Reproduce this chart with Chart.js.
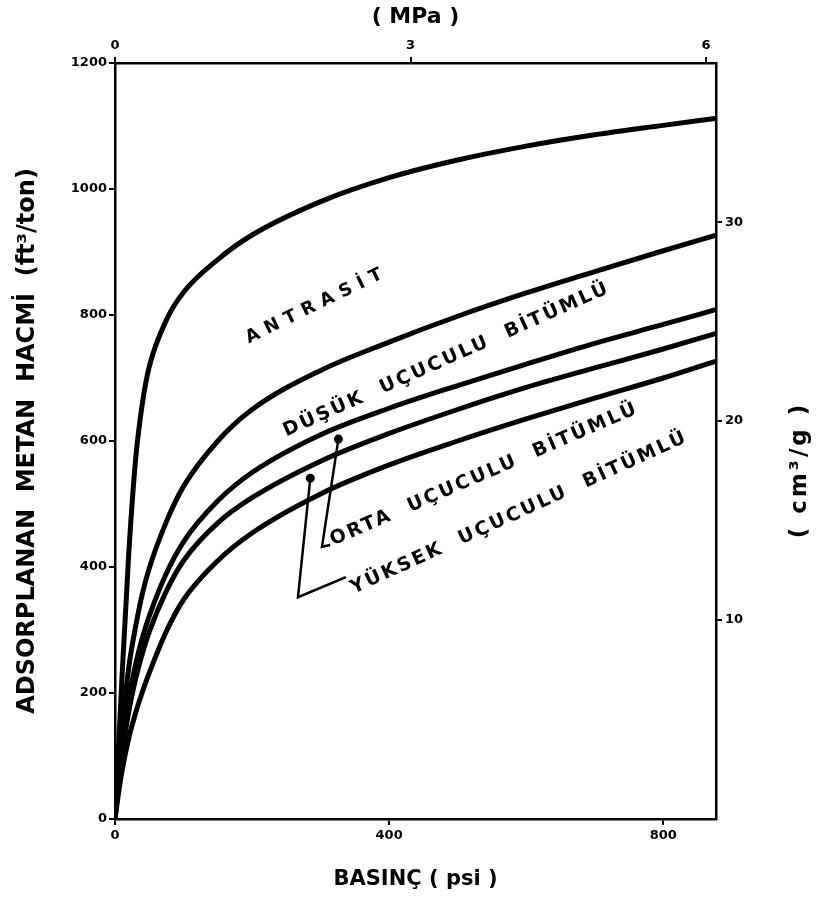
<!DOCTYPE html>
<html><head><meta charset="utf-8">
<script src="https://cdn.jsdelivr.net/npm/chart.js@4.4.0/dist/chart.umd.min.js"></script>
<style>html,body{margin:0;padding:0;background:#fff;}#wrap{width:816px;height:907px;}</style>
</head><body>
<div id="wrap"><canvas id="c" width="816" height="907"></canvas></div>
<script>
// ---- data ----
const pressurePsi = [0,5,10,20,30,40,50,75,100,150,200,300,400,500,600,700,800,875];
const antrasit      = [0,110,220,420,570,660,718,792,836,888,927,980,1018,1046,1068,1086,1101,1112];
const dusukUcuculu  = [0,75,140,240,305,358,398,472,528,600,650,712,757,798,835,869,902,926];
const ortaUcuculu   = [0,60,110,190,245,288,322,390,440,505,550,610,652,688,722,755,785,808];
const yuksekUcuculu = [0,52,98,170,222,263,297,362,410,470,510,568,612,650,685,716,746,770];
const yuksekUcuculu2= [0,40,75,128,168,202,232,298,348,410,454,516,562,600,635,668,700,726];
const seriesNames = ['Antrasit','Düşük uçuculu bitümlü','Orta uçuculu bitümlü','Yüksek uçuculu bitümlü','Yüksek uçuculu bitümlü 2'];
const psiTicks = [0,400,800];
const volumeTicks = [0,200,400,600,800,1000,1200];
const mpaTicks = [0,3,6];
const cm3gTicks = [10,20,30];
const curveLabels = ['ANTRASİT','DÜŞÜK  UÇUCULU  BİTÜMLÜ','ORTA  UÇUCULU  BİTÜMLÜ','YÜKSEK  UÇUCULU  BİTÜMLÜ'];

// ---- annotation placement (data units) ----
const labelPlacement = [
  {psi:295, vol:816, angle:-26, size:18, spacing:7},
  {psi:484, vol:729, angle:-24, size:19, spacing:2.5},
  {psi:539, vol:547, angle:-23.5, size:19, spacing:2.5},
  {psi:590, vol:486, angle:-24.5, size:19, spacing:2.5}
];
const leaderPaths = [
  [[326,603],[302,432],[314,435]],
  [[285,541],[267,352],[337,384]]
];

const allSeries = [antrasit,dusukUcuculu,ortaUcuculu,yuksekUcuculu,yuksekUcuculu2];
const datasets = allSeries.map((vals,i)=>({
  label: seriesNames[i],
  data: pressurePsi.map((p,j)=>({x:p,y:vals[j]})),
  borderColor:'#000', borderWidth:5, pointRadius:0, fill:false,
  cubicInterpolationMode:'monotone', borderCapStyle:'round', borderJoinStyle:'round'
}));

const FONT = "'DejaVu Sans', 'Liberation Sans', sans-serif";
const tickFont = {family:FONT, size:13, weight:'bold'};
const gridOpt = {drawOnChartArea:false, drawTicks:true, tickLength:6, color:'#000', lineWidth:2};
const borderOpt = {display:true, color:'#000', width:2.5};
const fixTicks = arr => (scale)=>{ scale.ticks = arr.map(v=>({value:v})); };
const plain = v => String(v);

const annot = {
  id:'annot',
  afterDatasetsDraw(chart){
    const {ctx, scales} = chart;
    const x = scales.x, y = scales.y;
    ctx.save();
    ctx.strokeStyle='#000'; ctx.fillStyle='#000'; ctx.lineWidth=2.5;
    leaderPaths.forEach(path=>{
      ctx.beginPath();
      path.forEach((p,i)=>{
        const px=x.getPixelForValue(p[0]), py=y.getPixelForValue(p[1]);
        if(i) ctx.lineTo(px,py); else ctx.moveTo(px,py);
      });
      ctx.stroke();
      ctx.beginPath();
      ctx.arc(x.getPixelForValue(path[0][0]), y.getPixelForValue(path[0][1]), 4.5, 0, Math.PI*2);
      ctx.fill();
    });
    curveLabels.forEach((t,i)=>{
      const L = labelPlacement[i];
      ctx.save();
      ctx.translate(x.getPixelForValue(L.psi), y.getPixelForValue(L.vol));
      ctx.rotate(L.angle*Math.PI/180);
      ctx.font = `bold ${L.size}px ${FONT}`;
      if ('letterSpacing' in ctx) ctx.letterSpacing = L.spacing+'px';
      ctx.textAlign='center'; ctx.textBaseline='middle';
      ctx.fillText(t, 0, 0);
      ctx.restore();
    });
    // right axis title, reading bottom-to-top
    const r = scales.y2;
    ctx.save();
    ctx.translate(800, (r.top+r.bottom)/2 + 29);
    ctx.rotate(-Math.PI/2);
    ctx.font = `bold 23px ${FONT}`;
    if ('letterSpacing' in ctx) ctx.letterSpacing = '3px';
    ctx.textAlign='center'; ctx.textBaseline='middle';
    ctx.fillText('( cm³/g )', 0, 0);
    ctx.restore();
    ctx.restore();
  }
};

new Chart(document.getElementById('c'), {
  type:'line',
  data:{datasets},
  plugins:[annot],
  options:{
    responsive:false, devicePixelRatio:1, animation:false,
    layout:{padding:0},
    plugins:{legend:{display:false}, tooltip:{enabled:false}},
    scales:{
      x:{type:'linear', position:'bottom', min:0, max:877,
         afterBuildTicks:fixTicks(psiTicks),
         afterFit:(s)=>{s.height=88;},
         ticks:{font:tickFont, color:'#000', padding:3, maxRotation:0, callback:plain},
         grid:gridOpt, border:borderOpt,
         title:{display:true, text:'BASINÇ ( psi )', font:{family:FONT,size:21,weight:'bold'}, color:'#000', padding:{top:0,bottom:15}}},
      x2:{type:'linear', position:'top', min:0, max:6.1,
         afterBuildTicks:fixTicks(mpaTicks),
         afterFit:(s)=>{s.height=63;},
         ticks:{font:tickFont, color:'#000', padding:4, maxRotation:0, callback:plain},
         grid:gridOpt, border:borderOpt,
         title:{display:true, text:'( MPa )', font:{family:FONT,size:22,weight:'bold'}, color:'#000', padding:{top:4,bottom:0}}},
      y:{type:'linear', position:'left', min:0, max:1200,
         afterBuildTicks:fixTicks(volumeTicks),
         afterFit:(s)=>{s.width=115;},
         ticks:{font:tickFont, color:'#000', padding:2, callback:plain},
         grid:gridOpt, border:borderOpt,
         title:{display:true, text:'ADSORPLANAN  METAN  HACMİ  (ft³/ton)', font:{family:FONT,size:24,weight:'bold'}, color:'#000', padding:{top:13,bottom:0}}},
      y2:{type:'linear', position:'right', min:0, max:38,
         afterBuildTicks:fixTicks(cm3gTicks),
         afterFit:(s)=>{s.width=100;},
         ticks:{font:tickFont, color:'#000', padding:3, callback:plain},
         grid:gridOpt, border:borderOpt}
    }
  }
});
</script>
</body></html>
